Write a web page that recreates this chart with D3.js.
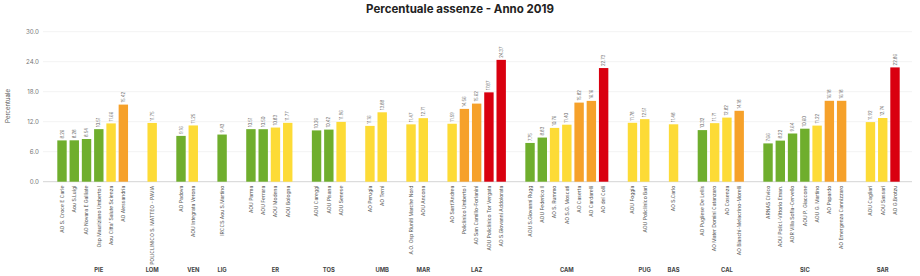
<!DOCTYPE html>
<html>
<head>
<meta charset="utf-8">
<script src="https://cdn.jsdelivr.net/npm/d3@7"></script>
<style>
  body { margin: 0; background: #fff; }
  svg { display: block; font-family: Inter, "Open Sans", sans-serif; }
</style>
</head>
<body>
<div id="chart"></div>
<script>
// Regions (bottom labels)
const regions = ["PIE", "LOM", "VEN", "LIG", "ER", "TOS", "UMB", "MAR", "LAZ", "CAM", "PUG", "BAS", "CAL", "SIC", "SAR"];

// Hospitals per region
const hospitals = [
  ["AO S. Croce E Carle", "Aou S.Luigi", "AO Novara E Galliate", "Osp Mauriziano Umberto I", "Aou Citta' Salute Scienza", "AO Alessandria"],
  ["POLICLINICO S. MATTEO - PAVIA"],
  ["AO Padova", "AOU Integrata Verona"],
  ["IRCCS Aou S.Martino"],
  ["AOU Parma", "AOU Ferrara", "AOU Modena", "AOU Bologna"],
  ["AOU Careggi", "AOU Pisana", "AOU Senese"],
  ["AO Perugia", "AO Terni"],
  ["A.O. Osp Riuniti Marche Nord", "AOU Ancona"],
  ["AO Sant'Andrea", "Policlinico Umberto I", "AO San Camillo-Forlanini", "AOU Policlinico Tor Vergata", "AO S.Giovanni Addolorata"],
  ["AOU S.Giovanni Rugg", "AOU Federico II", "AO S. Rummo", "AO S.G. Moscati", "AO Caserta", "AO Cardarelli", "AO dei Colli"],
  ["AOU Foggia", "AOU Policlinico Bari"],
  ["AO S.Carlo"],
  ["AO Pugliese De Lellis", "AO Mater Domini Catanzaro", "AO Cosenza", "AO Bianchi-Melacrino-Morelli"],
  ["ARNAS Civico", "AOU Policl.-Vittorio Eman.", "AOR Villa Sofia-Cervello", "AOU P. Giaccone", "AOU G. Martino", "AO Papardo", "AO Emergenza Cannizzaro"],
  ["AOU Cagliari", "AOU Sassari", "AO G.Brotzu"]
];

// Absence percentage per hospital
const absence = [
  [8.26, 8.28, 8.54, 10.51, 11.66, 15.42],
  [11.75],
  [9.16, 11.25],
  [9.43],
  [10.51, 10.50, 10.83, 11.77],
  [10.26, 10.42, 11.96],
  [11.16, 13.88],
  [11.47, 12.71],
  [11.59, 14.56, 15.62, 17.87, 24.37],
  [7.75, 8.83, 10.76, 11.40, 15.82, 16.16, 22.73],
  [11.78, 12.51],
  [11.48],
  [10.32, 11.71, 12.82, 14.18],
  [7.66, 8.22, 9.64, 10.60, 11.22, 16.18, 16.18],
  [11.92, 12.74, 22.86]
];

const yTicks = [0, 6, 12, 18, 24, 30];

const width = 920, height = 276;
const margin = { top: 32, right: 10, bottom: 94, left: 44 };

// flatten into bars, leaving a gap between regions
const GAP = 1.35;
let bars = [], groups = [], slot = 0;
regions.forEach((r, gi) => {
  if (gi > 0) slot += GAP;
  const start = slot;
  hospitals[gi].forEach((name, i) => {
    bars.push({ region: r, name: name, value: absence[gi][i], pos: slot });
    slot += 1;
  });
  groups.push({ region: r, pos: start + Math.floor(hospitals[gi].length / 2) });
});
const lastPos = slot - 1;

const svg = d3.select("#chart").append("svg")
  .attr("width", width)
  .attr("height", height);

const x = d3.scaleLinear()
  .domain([0, lastPos])
  .range([62, 895]);
const bw = 9.4;

const y = d3.scaleLinear()
  .domain([0, 30])
  .range([181.7, 31.7]);

const color = d3.scaleThreshold()
  .domain([10.7, 14, 17])
  .range(["#6fae2d", "#fddb36", "#f6a12a", "#d9000f"]);

// title
svg.append("text")
  .attr("x", 460)
  .attr("y", 13)
  .attr("text-anchor", "middle")
  .style("font-size", "11.5px")
  .style("font-weight", "700")
  .style("fill", "#222")
  .text("Percentuale assenze - Anno 2019");

// y axis label
svg.append("text")
  .attr("transform", "translate(10,106) rotate(-90)")
  .attr("text-anchor", "middle")
  .style("font-size", "6px")
  .style("fill", "#555")
  .text("Percentuale");

// gridlines + tick labels
svg.append("g").selectAll("line")
  .data(yTicks)
  .enter().append("line")
  .attr("x1", 43)
  .attr("x2", 912)
  .attr("y1", d => y(d))
  .attr("y2", d => y(d))
  .style("stroke", d => d === 0 ? "#c8c8c8" : "#efefef")
  .style("stroke-width", 0.8);

svg.append("g").selectAll("text")
  .data(yTicks)
  .enter().append("text")
  .attr("x", 39)
  .attr("y", d => y(d))
  .attr("dy", "0.35em")
  .attr("text-anchor", "end")
  .style("font-size", "6.2px")
  .style("fill", "#777")
  .text(d => d3.format(".1f")(d));

// bars
svg.append("g").selectAll("rect")
  .data(bars)
  .enter().append("rect")
  .attr("x", d => x(d.pos) - bw / 2)
  .attr("y", d => y(d.value))
  .attr("width", bw)
  .attr("height", d => y(0) - y(d.value))
  .style("fill", d => color(d.value));

// value labels
svg.append("g").selectAll("text")
  .data(bars)
  .enter().append("text")
  .attr("transform", d => `translate(${x(d.pos) + 1.5},${y(d.value) - 2}) rotate(-90)`)
  .attr("text-anchor", "start")
  .style("font-size", "4.2px")
  .style("fill", "#666")
  .text(d => d3.format(".2f")(d.value));

// hospital names
svg.append("g").selectAll("text")
  .data(bars)
  .enter().append("text")
  .attr("transform", d => `translate(${x(d.pos) + 1.8},${y(0) + 4}) rotate(-90)`)
  .attr("text-anchor", "end")
  .style("font-size", "5px")
  .style("fill", "#555")
  .text(d => d.name);

// region labels
svg.append("g").selectAll("text")
  .data(groups)
  .enter().append("text")
  .attr("x", d => x(d.pos))
  .attr("y", 272)
  .attr("text-anchor", "middle")
  .style("font-size", "5.8px")
  .style("font-weight", "700")
  .style("fill", "#444")
  .text(d => d.region);
</script>
</body>
</html>
